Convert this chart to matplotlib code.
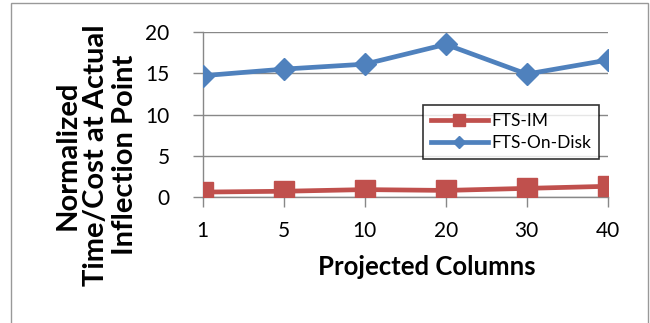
import numpy as np
import matplotlib
matplotlib.use('Agg')
import matplotlib.pyplot as plt
from matplotlib.patches import Rectangle

plt.rcParams['font.family'] = ['Lato', 'DejaVu Sans']

# data
columns = ['1', '5', '10', '20', '30', '40']
fts_im = [0.6, 0.7, 0.9, 0.8, 1.05, 1.3]
fts_disk = [14.7, 15.5, 16.1, 18.5, 14.9, 16.6]

x = np.arange(len(columns))

fig = plt.figure(figsize=(6.5, 3.23), dpi=100)
ax = fig.add_axes([0.312, 0.39, 0.623, 0.511])

ax.plot(x, fts_im, color='#C0504D', linewidth=3.4, marker='s', markersize=15,
        label='FTS-IM', zorder=3)
ax.plot(x, fts_disk, color='#4F81BD', linewidth=3.4, marker='D', markersize=11,
        label='FTS-On-Disk', zorder=3)

ax.set_xlim(0, len(columns) - 1)
ax.set_ylim(0, 20)
ax.set_yticks([0, 5, 10, 15, 20])
ax.set_xticks(x)
ax.set_xticklabels(columns)
ax.tick_params(axis='both', labelsize=15, color='#888888', length=7, width=1)
ax.tick_params(axis='x', pad=10)
ax.tick_params(axis='y', pad=17)
ax.yaxis.grid(True, color='#888888', linewidth=1)
ax.set_axisbelow(True)
for s in ['top', 'right']:
    ax.spines[s].set_visible(False)
for s in ['left', 'bottom']:
    ax.spines[s].set_color('#888888')
    ax.spines[s].set_linewidth(1)
ax.patch.set_alpha(0)

ax.set_xlabel('Projected Columns', fontsize=18.5, fontweight='bold', va='top')
ax.xaxis.set_label_coords(0.553, -0.35)
ax.set_ylabel('Normalized\nTime/Cost at Actual\nInflection Point', fontsize=21,
              fontweight='bold', linespacing=1.12)
ax.yaxis.set_label_coords(-0.16, 0.255)

leg = ax.legend(loc='upper left', bbox_to_anchor=(0.543, 0.557), fontsize=12.5,
                frameon=True, fancybox=False, handlelength=3.3,
                borderpad=0.45, labelspacing=0.35, handletextpad=0.2,
                markerscale=0.6, borderaxespad=0)
leg.get_frame().set_edgecolor('black')
leg.get_frame().set_linewidth(1.2)

# outer chart border
fig.patches.append(Rectangle((11 / 650, -0.05), 637 / 650, 1.04,
                             transform=fig.transFigure, fill=False,
                             edgecolor='#999999', linewidth=1))

fig.savefig('out.png', dpi=100)
